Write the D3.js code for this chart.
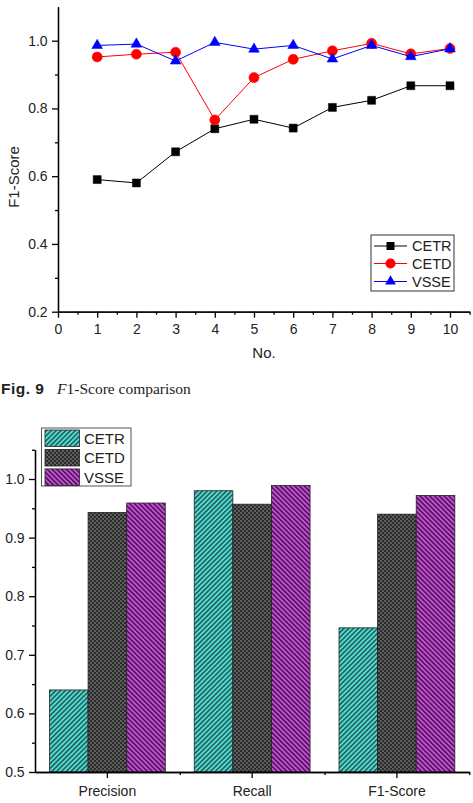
<!DOCTYPE html>
<html><head><meta charset="utf-8">
<script src="https://cdn.jsdelivr.net/npm/d3@7"></script>
<style>body{margin:0;background:#fff}svg{display:block}</style>
</head><body>
<script>
// ---- data: top line chart ----
const runs = [1,2,3,4,5,6,7,8,9,10];
const cetrLine = [0.59,0.58,0.672,0.74,0.768,0.742,0.803,0.824,0.867,0.867];
const cetdLine = [0.952,0.96,0.966,0.766,0.891,0.945,0.97,0.992,0.961,0.977];
const vsseLine = [0.986,0.99,0.94,0.995,0.975,0.986,0.946,0.986,0.953,0.976];
const xTicksTop = [0,1,2,3,4,5,6,7,8,9,10];
const yTicksTop = [0.2,0.4,0.6,0.8,1.0];
// ---- data: bottom bar chart ----
const metrics = ["Precision","Recall","F1-Score"];
const cetrBar = [0.64,0.98,0.746];
const cetdBar = [0.943,0.957,0.94];
const vsseBar = [0.959,0.989,0.972];
const yTicksBottom = [0.5,0.6,0.7,0.8,0.9,1.0];
const seriesNames = ["CETR","CETD","VSSE"];

const W=473,H=803;
const svg=d3.select("body").append("svg").attr("width",W).attr("height",H);
const font="Liberation Sans, Arial, sans-serif";

// patterns
const defs=svg.append("defs");
function stripe(id,bg,fg,dir){
  const p=defs.append("pattern").attr("id",id).attr("patternUnits","userSpaceOnUse")
    .attr("width",3.4).attr("height",3.4).attr("patternTransform","rotate("+(dir>0?45:-45)+")");
  p.append("rect").attr("width",3.4).attr("height",3.4).attr("fill",bg);
  p.append("rect").attr("width",1.4).attr("height",3.4).attr("fill",fg);
}
stripe("pCETR","#52dcd2","#1b4f4c",1);
stripe("pVSSE","#c84ed8","#3b0f45",-1);
const pc=defs.append("pattern").attr("id","pCETD").attr("patternUnits","userSpaceOnUse").attr("width",4).attr("height",4);
pc.append("rect").attr("width",4).attr("height",4).attr("fill","#2b2b2b");
pc.append("rect").attr("width",2).attr("height",2).attr("fill","#5e5e5e");
pc.append("rect").attr("x",2).attr("y",2).attr("width",2).attr("height",2).attr("fill","#5e5e5e");
const fills={CETR:"url(#pCETR)",CETD:"url(#pCETD)",VSSE:"url(#pVSSE)"};

// ================= TOP CHART =================
const xT=d3.scaleLinear().domain([0,10.5]).range([58,469.6]);
const yT=d3.scaleLinear().domain([0.2,1.1]).range([311.7,6.8]);
const gT=svg.append("g");

const axB=gT.append("g").attr("transform","translate(0,"+yT(0.2)+")")
  .call(d3.axisBottom(xT).tickValues(xTicksTop).tickFormat(d3.format("d")).tickSize(6).tickSizeOuter(0));
const axBm=gT.append("g").attr("transform","translate(0,"+yT(0.2)+")")
  .call(d3.axisBottom(xT).tickValues(d3.range(0.5,10.6,1)).tickFormat("").tickSize(3).tickSizeOuter(0));
const axL=gT.append("g").attr("transform","translate("+xT(0)+",0)")
  .call(d3.axisLeft(yT).tickValues(yTicksTop).tickFormat(d3.format(".1f")).tickSize(6).tickSizeOuter(0));
const axLm=gT.append("g").attr("transform","translate("+xT(0)+",0)")
  .call(d3.axisLeft(yT).tickValues([0.3,0.5,0.7,0.9]).tickFormat("").tickSize(3).tickSizeOuter(0));
[axB,axBm,axL,axLm].forEach(a=>{a.selectAll("path,line").attr("stroke","#000").attr("stroke-width",1.3);
  a.selectAll("text").attr("font-family",font).attr("font-size",14).attr("fill","#222");});
axB.selectAll("text").attr("dy","0.95em");
axL.selectAll("text").attr("dx","-0.1em");

gT.append("text").attr("x",264).attr("y",358).attr("text-anchor","middle")
  .attr("font-family",font).attr("font-size",15).attr("fill","#222").text("No.");
gT.append("text").attr("transform","translate(19,177) rotate(-90)").attr("text-anchor","middle")
  .attr("font-family",font).attr("font-size",15).attr("fill","#222").text("F1-Score");

const topSeries=[
  {name:"CETR",vals:cetrLine,color:"#000",sym:d3.symbolSquare,size:64},
  {name:"CETD",vals:cetdLine,color:"#ff0000",sym:d3.symbolCircle,size:80},
  {name:"VSSE",vals:vsseLine,color:"#0000ff",sym:d3.symbolTriangle,size:50}
];
const line=d3.line().x(d=>xT(d[0])).y(d=>yT(d[1]));
topSeries.forEach(s=>{
  const pts=runs.map((r,i)=>[r,s.vals[i]]);
  gT.append("path").datum(pts).attr("d",line).attr("fill","none").attr("stroke",s.color).attr("stroke-width",1);
  gT.selectAll(null).data(pts).enter().append("path")
    .attr("d",d3.symbol().type(s.sym).size(s.size))
    .attr("transform",d=>"translate("+xT(d[0])+","+yT(d[1])+")")
    .attr("fill",s.color).attr("stroke",s.color).attr("stroke-width",0.5);
});
// legend top
const lg=gT.append("g");
lg.append("rect").attr("x",371).attr("y",235).attr("width",83).attr("height",56)
  .attr("fill","#fff").attr("stroke","#333").attr("stroke-width",1);
topSeries.forEach((s,i)=>{
  const y=[246,263.5,281.5][i];
  lg.append("line").attr("x1",374).attr("x2",407).attr("y1",y).attr("y2",y).attr("stroke",s.color).attr("stroke-width",1);
  lg.append("path").attr("d",d3.symbol().type(s.sym).size(s.size)).attr("transform","translate(390.5,"+y+")").attr("fill",s.color);
  lg.append("text").attr("x",412).attr("y",y).attr("dy","0.36em").attr("font-family",font).attr("font-size",14.5)
    .attr("fill","#222").text(s.name);
});

// caption
const cap=svg.append("g").attr("fill","#222");
cap.append("text").attr("x",1).attr("y",393.5).attr("font-family",font).attr("font-weight","bold").attr("font-size",15.5)
  .attr("letter-spacing",0.5).text("Fig. 9");
const cap2=cap.append("text").attr("x",57).attr("y",393.5).attr("font-size",15.5).attr("font-family","Liberation Serif, serif");
cap2.append("tspan").attr("font-style","italic").text("F");
cap2.append("tspan").text("1-Score comparison");

// ================= BOTTOM CHART =================
const xB=d3.scaleBand().domain(metrics).range([35,469.3]).paddingInner(0).paddingOuter(0);
const xS=d3.scaleBand().domain(seriesNames).range([0,xB.bandwidth()]).paddingOuter(0.375).paddingInner(0);
const yB=d3.scaleLinear().domain([0.5,1.05]).range([772,449.7]);
const gB=svg.append("g");
const barVals={CETR:cetrBar,CETD:cetdBar,VSSE:vsseBar};
metrics.forEach((m,i)=>{
  seriesNames.forEach(s=>{
    const v=barVals[s][i];
    gB.append("rect").attr("x",xB(m)+xS(s)).attr("width",xS.bandwidth())
      .attr("y",yB(v)).attr("height",yB(0.5)-yB(v))
      .attr("fill",fills[s]).attr("stroke","#222").attr("stroke-width",0.8);
  });
});
const bxa=gB.append("g").attr("transform","translate(0,772)")
  .call(d3.axisBottom(xB).tickSize(6).tickSizeOuter(0));
const bxm=gB.append("g").attr("transform","translate(0,772)")
  .call(d3.axisBottom(d3.scaleLinear().domain([0,3]).range([35,469.3])).tickValues([1,2,3]).tickFormat("").tickSize(3).tickSizeOuter(0));
const bya=gB.append("g").attr("transform","translate(35,0)")
  .call(d3.axisLeft(yB).tickValues(yTicksBottom).tickFormat(d3.format(".1f")).tickSize(6).tickSizeOuter(0));
const bym=gB.append("g").attr("transform","translate(35,0)")
  .call(d3.axisLeft(yB).tickValues([0.55,0.65,0.75,0.85,0.95,1.05]).tickFormat("").tickSize(3).tickSizeOuter(0));
[bxa,bxm,bya,bym].forEach(a=>{a.selectAll("path,line").attr("stroke","#000").attr("stroke-width",1.3);
  a.selectAll("text").attr("font-family",font).attr("font-size",14).attr("fill","#222");});
bxa.selectAll("text").attr("dy","1.05em");
bya.selectAll("text").attr("dx","-0.1em");

// legend bottom
const lb=gB.append("g");
lb.append("rect").attr("x",41.5).attr("y",428).attr("width",89.5).attr("height",58)
  .attr("fill","#fff").attr("stroke","#555").attr("stroke-width",1);
seriesNames.forEach((s,i)=>{
  const y=[438.3,457.7,477.2][i];
  lb.append("rect").attr("x",45).attr("y",y-8.3).attr("width",34.5).attr("height",16.6)
    .attr("fill",fills[s]).attr("stroke","#222").attr("stroke-width",0.8);
  lb.append("text").attr("x",84).attr("y",y).attr("dy","0.36em").attr("font-family",font).attr("font-size",15)
    .attr("fill","#222").text(s);
});
</script>
</body></html>
